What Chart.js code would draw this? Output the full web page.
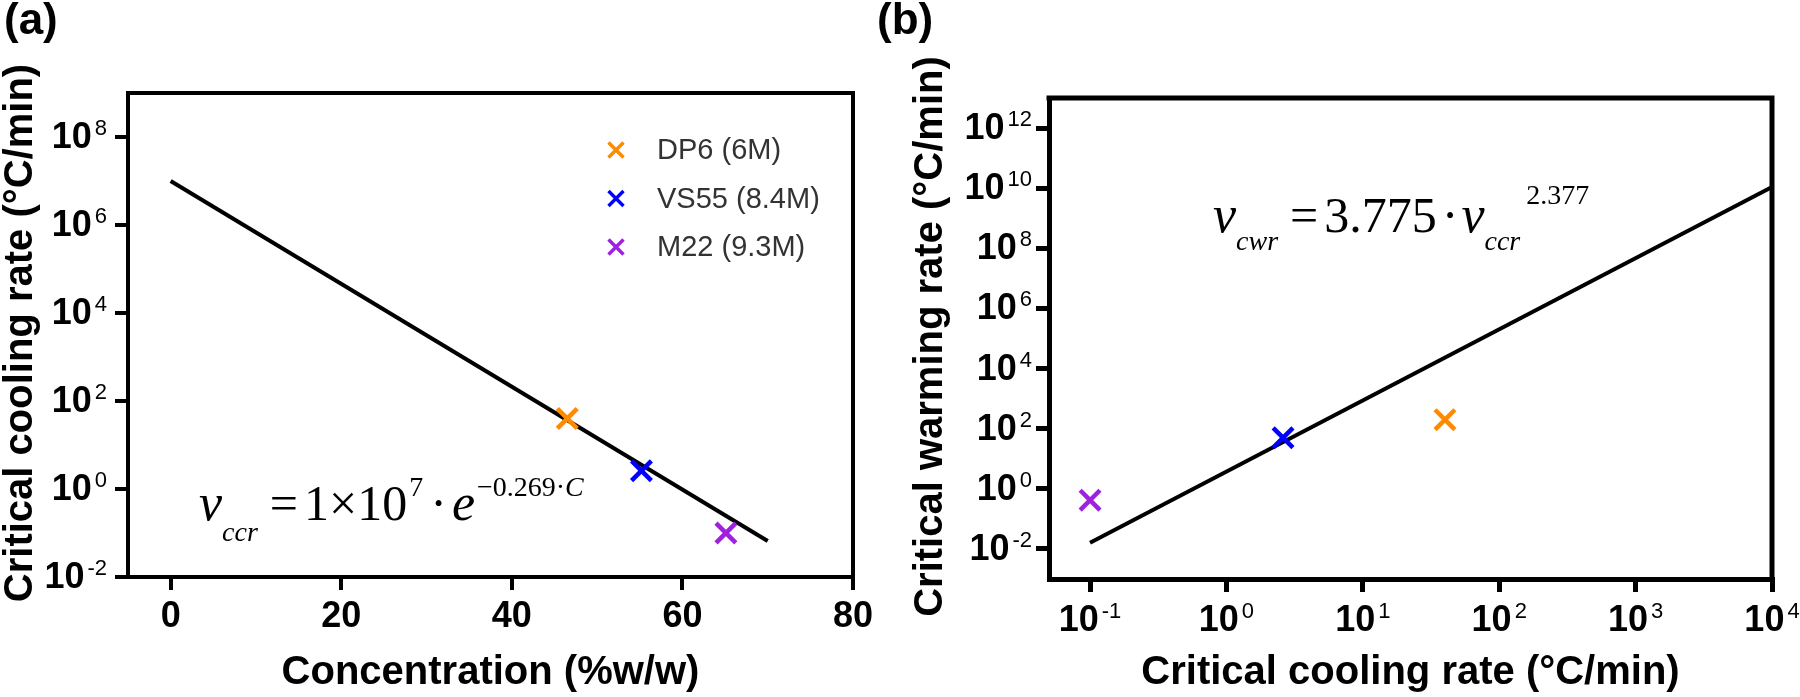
<!DOCTYPE html>
<html>
<head>
<meta charset="utf-8">
<script src="https://cdn.jsdelivr.net/npm/chart.js@4.4.1/dist/chart.umd.min.js"></script>
<style>
  html, body { margin: 0; padding: 0; background: #fff; }
  #wrap { position: relative; width: 1800px; height: 697px; overflow: hidden; }
  canvas { position: absolute; top: 0; }
  #ca { left: 0; }
  #cb { left: 860px; }
</style>
</head>
<body>
<div id="wrap">
  <canvas id="ca" width="900" height="697"></canvas>
  <canvas id="cb" width="940" height="697"></canvas>
</div>
<script>
// ---------------- DATA ----------------
const samples = ['DP6 (6M)', 'VS55 (8.4M)', 'M22 (9.3M)'];
const concentration = [46.5, 55.2, 65.1];          // %w/w
const coolingRate = [40, 2.6, 0.1];                // °C/min
const warmingRate = [200, 50, 0.42];               // °C/min

// fitted lines (endpoints)
const fitA_C = [0, 70];
const fitA_vccr = [1e7, 0.066];
const fitB_vccr = [0.1, 1e4];
const fitB_vcwr = [0.016, 1.1e10];

// tick labels
const ticksA_x = [0, 20, 40, 60, 80];
const ticksA_yExp = [-2, 0, 2, 4, 6, 8];
const ticksB_xExp = [-1, 0, 1, 2, 3, 4];
const ticksB_yExp = [-2, 0, 2, 4, 6, 8, 10, 12];

// ---------------- STYLE ----------------
const sampleColors = ['#FF8A00', '#0000FF', '#A020E0'];
const SANS = '"Liberation Sans", Arial, sans-serif';
const SERIF = '"Liberation Serif", "Times New Roman", serif';

function pow10Label(ctx, x, baseY, exp, align, mainPx, supPx, rise) {
  ctx.font = 'bold ' + mainPx + 'px ' + SANS;
  const wb = ctx.measureText('10').width;
  ctx.font = supPx + 'px ' + SANS;
  const we = ctx.measureText(exp).width;
  const gap = 3;
  const total = wb + gap + we;
  const x0 = align === 'right' ? x - total : (align === 'center' ? x - total / 2 : x);
  ctx.textAlign = 'left';
  ctx.textBaseline = 'alphabetic';
  ctx.font = 'bold ' + mainPx + 'px ' + SANS;
  ctx.fillText('10', x0, baseY);
  ctx.font = supPx + 'px ' + SANS;
  ctx.fillText(exp, x0 + wb + gap, baseY - rise);
}

// draw a sequence of text runs; each run: [text, font, dy, gapBefore]
function drawRuns(ctx, x, y, runs) {
  ctx.textAlign = 'left';
  ctx.textBaseline = 'alphabetic';
  let cx = x;
  for (const r of runs) {
    cx += r[3] || 0;
    ctx.font = r[1];
    ctx.fillText(r[0], cx, y + (r[2] || 0));
    cx += ctx.measureText(r[0]).width;
  }
}

function frameAndLabels(cfg) {
  return {
    id: 'decor_' + cfg.id,
    afterDraw(chart) {
      const ctx = chart.ctx;
      const a = chart.chartArea;
      const sx = chart.scales.x, sy = chart.scales.y;
      ctx.save();
      // frame top & right (+ left extension of x-axis)
      ctx.strokeStyle = '#000';
      ctx.lineWidth = cfg.lw;
      ctx.lineCap = 'square';
      ctx.beginPath();
      ctx.moveTo(a.left, a.top);
      ctx.lineTo(a.right, a.top);
      ctx.lineTo(a.right, a.bottom);
      ctx.stroke();
      if (cfg.extendX) {
        ctx.lineCap = 'butt';
        ctx.beginPath();
        ctx.moveTo(a.left - cfg.extendX, a.bottom);
        ctx.lineTo(a.left, a.bottom);
        ctx.stroke();
      }
      ctx.fillStyle = '#000';
      // x tick labels
      if (cfg.xLog) {
        for (const e of cfg.xTicks) {
          const px = sx.getPixelForValue(Math.pow(10, e));
          pow10Label(ctx, px, a.bottom + cfg.xBase, String(e), 'center', cfg.tickPx, cfg.supPx, 13);
        }
      } else {
        ctx.font = 'bold ' + cfg.tickPx + 'px ' + SANS;
        ctx.textAlign = 'center';
        ctx.textBaseline = 'alphabetic';
        for (const v of cfg.xTicks) {
          ctx.fillText(String(v), sx.getPixelForValue(v), a.bottom + cfg.xBase);
        }
      }
      // y tick labels
      for (const e of cfg.yTicks) {
        const py = sy.getPixelForValue(Math.pow(10, e));
        pow10Label(ctx, a.left - cfg.yGap, py + 11, String(e), 'right', cfg.tickPx, cfg.supPx, 13);
      }
      // y axis title (rotated)
      ctx.save();
      ctx.translate(cfg.yTitleX, (a.top + a.bottom) / 2 - 2);
      ctx.rotate(-Math.PI / 2);
      ctx.font = 'bold 40px ' + SANS;
      ctx.textAlign = 'center';
      ctx.textBaseline = 'middle';
      ctx.fillText(cfg.yTitle, 0, 0);
      ctx.restore();
      // panel letter
      ctx.font = 'bold 44px ' + SANS;
      ctx.textAlign = 'left';
      ctx.textBaseline = 'alphabetic';
      ctx.fillText(cfg.letter, cfg.letterX, 34);
      if (cfg.extra) cfg.extra(ctx, chart);
      ctx.restore();
    }
  };
}

function makeScales(o) {
  const grid = {
    display: true, drawOnChartArea: false, drawTicks: true,
    tickLength: 13, tickWidth: o.lw, lineWidth: o.lw, color: '#000', tickColor: '#000'
  };
  const border = { display: true, color: '#000', width: o.lw };
  const titleFont = { family: SANS, size: 40, weight: 'bold' };
  return {
    x: Object.assign({
      position: 'bottom',
      grid: grid, border: border,
      ticks: { display: false },
      afterFit: s => { s.height = o.xH; },
      title: { display: true, text: o.xTitle, color: '#000', font: titleFont, padding: { top: 0, bottom: 0 } }
    }, o.x),
    y: Object.assign({
      position: 'left',
      grid: grid, border: border,
      ticks: { display: false },
      afterFit: s => { s.width = o.yW; },
      title: { display: false }
    }, o.y)
  };
}

function pointsDatasets(xs, ys) {
  return samples.map((s, i) => ({
    label: s,
    data: [{ x: xs[i], y: ys[i] }],
    pointStyle: 'crossRot',
    pointRadius: 14,
    pointBorderWidth: 4.5,
    borderColor: sampleColors[i],
    backgroundColor: sampleColors[i],
    showLine: false,
    order: 0
  }));
}

// ---------------- CHART A ----------------
const dsA = pointsDatasets(concentration, coolingRate);
dsA.push({
  label: 'fit',
  data: fitA_C.map((c, i) => ({ x: c, y: fitA_vccr[i] })),
  showLine: true, borderColor: '#000', borderWidth: 4, pointRadius: 0, fill: false, order: 1
});

new Chart(document.getElementById('ca'), {
  type: 'scatter',
  data: { datasets: dsA },
  options: {
    responsive: false, animation: false, devicePixelRatio: 1,
    layout: { padding: { top: 93, right: 47, left: 0, bottom: 0 } },
    plugins: { legend: { display: false }, tooltip: { enabled: false }, title: { display: false } },
    scales: makeScales({
      lw: 4, xH: 120, yW: 128,
      xTitle: 'Concentration (%w/w)',
      x: { type: 'linear', min: -5, max: 80, afterBuildTicks: s => { s.ticks = ticksA_x.map(v => ({ value: v })); } },
      y: { type: 'logarithmic', min: 1e-2, max: 1e9, afterBuildTicks: s => { s.ticks = ticksA_yExp.map(e => ({ value: Math.pow(10, e) })); } }
    })
  },
  plugins: [frameAndLabels({
    id: 'a', lw: 4, extendX: 13, xLog: false, xTicks: ticksA_x, yTicks: ticksA_yExp,
    tickPx: 36, supPx: 22, xBase: 50, yGap: 21, letter: '(a)', letterX: 4,
    yTitle: 'Critical cooling rate (°C/min)', yTitleX: 21,
    extra(ctx, chart) {
      const a = chart.chartArea;
      // legend
      const lx = a.right - 237, ly0 = a.top + 57, step = 48.5;
      samples.forEach((s, i) => {
        const y = ly0 + i * step;
        ctx.strokeStyle = sampleColors[i];
        ctx.lineWidth = 3.4;
        ctx.lineCap = 'butt';
        ctx.beginPath();
        ctx.moveTo(lx - 7.5, y - 7.5); ctx.lineTo(lx + 7.5, y + 7.5);
        ctx.moveTo(lx + 7.5, y - 7.5); ctx.lineTo(lx - 7.5, y + 7.5);
        ctx.stroke();
        ctx.fillStyle = '#333';
        ctx.font = '29px ' + SANS;
        ctx.textAlign = 'left';
        ctx.textBaseline = 'middle';
        ctx.fillText(s, lx + 41, y + 1);
      });
      // equation
      ctx.fillStyle = '#000';
      const big = '50px ' + SERIF, bigI = 'italic 52px ' + SERIF;
      const sub = 'italic 28px ' + SERIF, sup = '28px ' + SERIF, supI = 'italic 28px ' + SERIF;
      drawRuns(ctx, a.left + 71, a.top + 427, [
        ['v', bigI, 0, 0],
        ['ccr', sub, 21, 0],
        ['=', big, 0, 12],
        ['1×10', big, 0, 6],
        ['7', sup, -24, 2],
        ['·', big, 0, 7],
        ['e', bigI, 0, 5],
        ['−0.269·', sup, -24, 2],
        ['C', supI, -24, 0]
      ]);
    }
  })]
});

// ---------------- CHART B ----------------
const dsB = pointsDatasets(coolingRate, warmingRate);
dsB.push({
  label: 'fit',
  data: fitB_vccr.map((c, i) => ({ x: c, y: fitB_vcwr[i] })),
  showLine: true, borderColor: '#000', borderWidth: 4, pointRadius: 0, fill: false, order: 1
});

new Chart(document.getElementById('cb'), {
  type: 'scatter',
  data: { datasets: dsB },
  options: {
    responsive: false, animation: false, devicePixelRatio: 1,
    layout: { padding: { top: 98, right: 28, left: 0, bottom: 0 } },
    plugins: { legend: { display: false }, tooltip: { enabled: false }, title: { display: false } },
    scales: makeScales({
      lw: 5, xH: 118, yW: 189,
      xTitle: 'Critical cooling rate (°C/min)',
      x: { type: 'logarithmic', min: 0.05, max: 1e4, afterBuildTicks: s => { s.ticks = ticksB_xExp.map(e => ({ value: Math.pow(10, e) })); } },
      y: { type: 'logarithmic', min: 1e-3, max: 1e13, afterBuildTicks: s => { s.ticks = ticksB_yExp.map(e => ({ value: Math.pow(10, e) })); } }
    })
  },
  plugins: [frameAndLabels({
    id: 'b', lw: 5, extendX: 0, xLog: true, xTicks: ticksB_xExp, yTicks: ticksB_yExp,
    tickPx: 36, supPx: 22, xBase: 52, yGap: 17, letter: '(b)', letterX: 17,
    yTitle: 'Critical warming rate (°C/min)', yTitleX: 71,
    extra(ctx, chart) {
      const a = chart.chartArea;
      ctx.fillStyle = '#000';
      const big = '50px ' + SERIF, bigI = 'italic 52px ' + SERIF;
      const sub = 'italic 28px ' + SERIF, sup = '28px ' + SERIF;
      drawRuns(ctx, a.left + 164, a.top + 134, [
        ['v', bigI, 0, 0],
        ['cwr', sub, 18, 0],
        ['=', big, 0, 12],
        ['3.775', big, 0, 6],
        ['·', big, 0, 5],
        ['v', bigI, 0, 3],
        ['ccr', sub, 18, 0],
        ['2.377', sup, -28, 6]
      ]);
    }
  })]
});
</script>
</body>
</html>
